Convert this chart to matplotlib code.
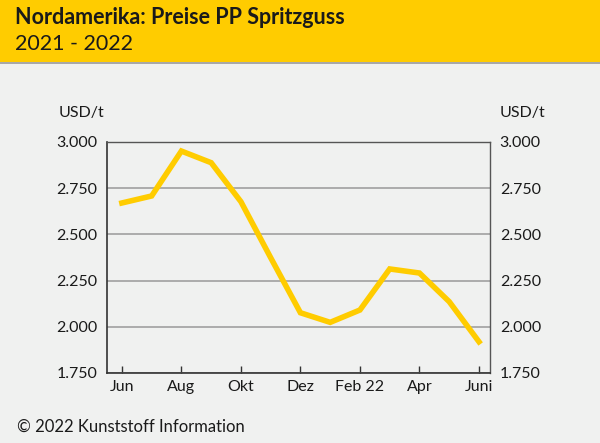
import matplotlib.pyplot as plt
from matplotlib.patches import Rectangle
from matplotlib.ticker import FuncFormatter

plt.rcParams['font.family'] = ['Lato', 'DejaVu Sans']

# Data (monthly prices, Jun 2021 - Jun 2022)
months = list(range(13))
prices = [2670, 2708, 2951, 2888, 2677, 2374, 2076, 2024, 2091, 2313, 2291, 2136, 1919]
tick_pos = [0, 2, 4, 6, 8, 10, 12]
tick_labels = ["Jun", "Aug", "Okt", "Dez", "Feb 22", "Apr", "Juni"]
y_ticks = [1750, 2000, 2250, 2500, 2750, 3000]

bg = "#f0f1f0"
yellow = "#ffcc00"
text_col = "#1a1a1a"

fig = plt.figure(figsize=(6, 4.43), dpi=100, facecolor=bg)

# Header band
fig.patches.append(Rectangle((0, 1 - 62 / 443), 1, 62 / 443, transform=fig.transFigure,
                             facecolor=yellow, edgecolor="none", zorder=0))
fig.patches.append(Rectangle((0, 1 - 64 / 443), 1, 2 / 443, transform=fig.transFigure,
                             facecolor="#a8a8a8", edgecolor="none", zorder=0))
fig.text(15 / 600, 1 - 18 / 443, "Nordamerika: Preise PP Spritzguss", fontsize=15.5,
         fontweight="bold", color=text_col, va="center", ha="left")
fig.text(15 / 600, 1 - 44 / 443, "2021 - 2022", fontsize=15.5, color=text_col,
         va="center", ha="left")

ax = fig.add_axes([107 / 600, 1 - 373 / 443, 383 / 600, 231 / 443])
ax.set_facecolor(bg)
ax.plot(months, prices, color=yellow, linewidth=4, solid_joinstyle="miter", zorder=3)

ax.set_ylim(1750, 3000)
ax.set_xlim(-0.5, 12.37)
ax.set_yticks(y_ticks)
ax.yaxis.set_major_formatter(FuncFormatter(lambda v, p: f"{int(v):,}".replace(",", ".")))
ax.grid(axis="y", color="#a0a0a0", linewidth=1.2)
ax.tick_params(axis="y", length=0, labelsize=11.5, labelcolor=text_col, pad=7,
               labelright=True)

ax.set_xticks(tick_pos)
ax.set_xticklabels(tick_labels)
ax.tick_params(axis="x", direction="in", length=5, width=1, color="#333333",
               labelsize=11.5, labelcolor=text_col, pad=5)

for side in ["left", "bottom"]:
    ax.spines[side].set_color("#333333")
    ax.spines[side].set_linewidth(1.2)
for side in ["top", "right"]:
    ax.spines[side].set_color("#555555")
    ax.spines[side].set_linewidth(1.0)

fig.text(82 / 600, 1 - 113 / 443, "USD/t", fontsize=11.5, color=text_col,
         ha="center", va="center")
fig.text(500 / 600, 1 - 113 / 443, "USD/t", fontsize=11.5, color=text_col,
         ha="left", va="center")

fig.text(17 / 600, 1 - 427 / 443, "© 2022 Kunststoff Information", fontsize=12,
         color=text_col, ha="left", va="center")

plt.savefig("out.png", dpi=100, facecolor=bg)
